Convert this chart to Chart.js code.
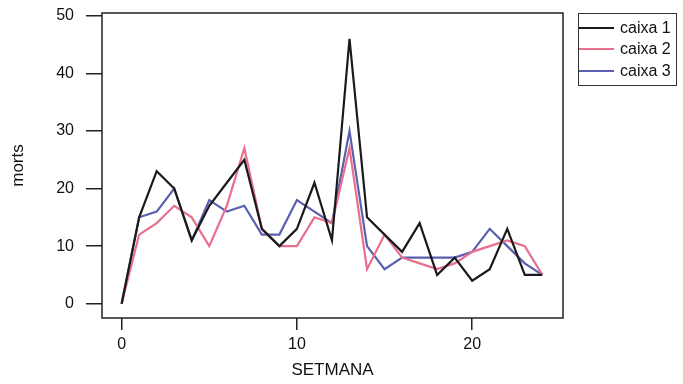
<!DOCTYPE html>
<html>
<head>
<meta charset="utf-8">
<script src="https://cdn.jsdelivr.net/npm/chart.js@4/dist/chart.umd.min.js"></script>
<style>
  body { margin: 0; background: #fff; }
  #wrap { position: relative; width: 683px; height: 384px; }
  #legend {
    position: absolute; left: 578px; top: 13px; width: 99px; height: 73px;
    border: 1px solid #333; box-sizing: border-box;
    font-family: "Liberation Sans", Arial, sans-serif; font-size: 16px; color: #111;
  }
  .row { position: absolute; left: 0; height: 18px; line-height: 18px; }
  .row span.line { position: absolute; left: 0; top: 8px; width: 35px; height: 2px; }
  .row span.txt { position: absolute; left: 41px; white-space: nowrap; }
</style>
</head>
<body>
<div id="wrap">
  <canvas id="chart" width="683" height="384"></canvas>
  <div id="legend"></div>
</div>
<script>
// weeks 0..24
const weeks = [0,1,2,3,4,5,6,7,8,9,10,11,12,13,14,15,16,17,18,19,20,21,22,23,24];
const caixa1 = [0,15,23,20,11,17,21,25,13,10,13,21,11,46,15,12,9,14,5,8,4,6,13,5,5];
const caixa2 = [0,12,14,17,15,10,17,27,13,10,10,15,14,27,6,12,8,7,6,7,9,10,11,10,5];
const caixa3 = [0,15,16,20,11,18,16,17,12,12,18,16,14,30,10,6,8,8,8,8,9,13,10,7,5];
const seriesNames = ['caixa 1', 'caixa 2', 'caixa 3'];
const seriesColors = ['#1a1a1a', '#e8708e', '#5a5fb0'];
const xTicks = [0, 10, 20];
const yTicks = [0, 10, 20, 30, 40, 50];

function toPoints(vals) {
    return weeks.map((w, i) => ({ x: w, y: vals[i] }));
}

const datasets = [caixa1, caixa2, caixa3].map((vals, i) => ({
    label: seriesNames[i],
    data: toPoints(vals),
    borderColor: seriesColors[i],
    borderWidth: 2.2,
    pointRadius: 0,
    tension: 0,
    fill: false
}));

// frame round the plot area
const frame = {
    id: 'frame',
    afterDraw(chart) {
        const a = chart.chartArea;
        const ctx = chart.ctx;
        ctx.save();
        ctx.strokeStyle = '#222';
        ctx.lineWidth = 1.5;
        ctx.strokeRect(a.left, a.top, a.right - a.left, a.bottom - a.top);
        ctx.restore();
    }
};

const font = { family: '"Liberation Sans", Arial, sans-serif' };

new Chart(document.getElementById('chart'), {
    type: 'line',
    data: { datasets: datasets },
    options: {
        responsive: false,
        animation: false,
        layout: { padding: { top: 13, right: 120, left: 0, bottom: 0 } },
        plugins: { legend: { display: false }, tooltip: { enabled: false } },
        scales: {
            x: {
                type: 'linear',
                min: -1.12,
                max: 25.18,
                afterBuildTicks: s => { s.ticks = xTicks.map(v => ({ value: v })); },
                afterFit: s => { s.height = 66; s.paddingLeft = 0; s.paddingRight = 0; },
                border: { display: false },
                grid: { drawOnChartArea: false, drawTicks: true, tickLength: 12, color: '#222', lineWidth: 1.5 },
                ticks: { color: '#111', font: { ...font, size: 16 }, padding: 5, maxRotation: 0 },
                title: { display: true, text: 'SETMANA', color: '#111', font: { ...font, size: 17 }, padding: { top: 0, bottom: 3 } }
            },
            y: {
                min: -2.48,
                max: 50.47,
                afterBuildTicks: s => { s.ticks = yTicks.map(v => ({ value: v })); },
                afterFit: s => { s.width = 102; s.paddingTop = 0; s.paddingBottom = 0; },
                border: { display: false },
                grid: { drawOnChartArea: false, drawTicks: true, tickLength: 16, color: '#222', lineWidth: 1.5 },
                ticks: { color: '#111', font: { ...font, size: 16 }, padding: 12 },
                title: { display: true, text: 'morts', color: '#111', font: { ...font, size: 17 }, padding: { top: 8, bottom: 0 } }
            }
        }
    },
    plugins: [frame]
});

// legend as html, built from the datasets
const legend = document.getElementById('legend');
const rowCenters = [13.7, 35.3, 57];
datasets.forEach((ds, i) => {
    const row = document.createElement('div');
    row.className = 'row';
    row.style.top = (rowCenters[i] - 9) + 'px';
    row.innerHTML = '<span class="line" style="background:' + ds.borderColor + '"></span><span class="txt">' + ds.label + '</span>';
    legend.appendChild(row);
});
</script>
</body>
</html>
